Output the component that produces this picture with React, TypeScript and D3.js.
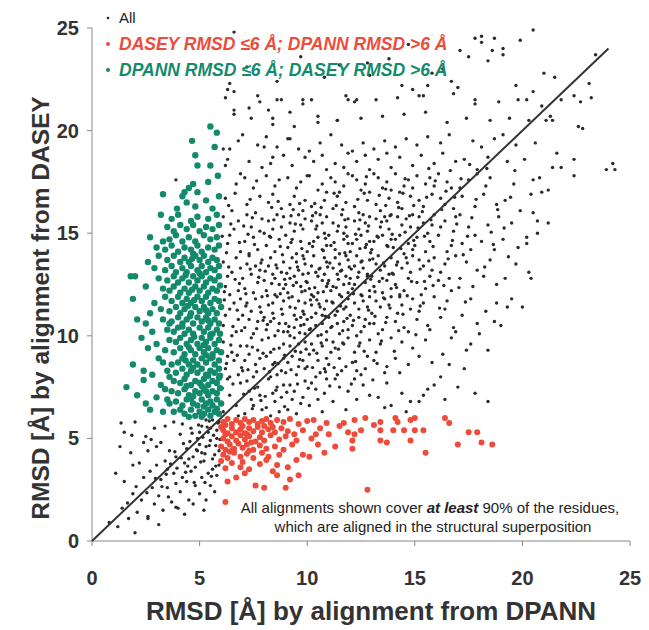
import React from "react";
import { scaleLinear, line } from "d3";

// values (RMSD in Å): [DPANN, DASEY]
const allPoints: [number, number][] = [
  // below 6/6, along the diagonal
  [0.8,0.9],[1.2,0.7],[1.4,1.6],[1.7,1.1],[1.9,2.3],[1.5,2.9],[2.1,1.4],[2.3,2.0],[2.4,3.1],[2.6,1.2],[2.8,2.6],[2.2,3.8],[2.9,1.8],[2.7,3.4],[3.1,2.2],[3.2,3.0],[3.3,1.5],[3.4,3.9],[3.5,2.6],[3.6,4.4],[3.7,1.9],[3.8,3.3],[3.9,2.8],[3.2,4.8],[3.5,3.5],[3.9,4.1],[4.0,1.6],[4.1,2.4],[4.2,3.1],[4.3,3.8],[4.4,4.5],[4.1,5.2],[4.5,2.0],[4.6,3.4],[4.7,4.1],[4.8,2.7],[4.9,5.0],[4.2,5.7],[4.6,5.5],[4.8,3.6],[4.4,2.9],[4.9,4.4],[4.3,1.3],[4.7,1.8],[5.0,2.3],[5.1,3.1],[5.2,3.9],[5.3,4.6],[5.4,5.3],[5.5,2.7],[5.6,3.5],[5.7,4.2],[5.8,5.0],[5.9,5.8],[5.1,5.6],[5.3,2.0],[5.5,4.9],[5.6,5.9],[5.8,3.2],[5.9,4.4],[5.2,1.5],[5.7,2.4],[5.4,3.3],[5.0,4.7],[5.6,4.0],[5.8,5.4],[5.3,5.9],[5.9,3.7],[5.5,5.5],[5.1,4.3],
  [1.5,5.3],[1.8,4.3],[1.9,3.7],[2.5,5.1],[2.0,5.8],[2.9,5.5],[3.0,4.6],[1.3,4.6],[2.6,4.4],[3.4,5.6],[1.1,3.3],[3.1,0.8],[2.0,0.4],[3.8,5.8],[2.4,4.8],[3.9,1.65],[2.6,1.1],[3.0,3.7],[4.5,4.0],[5.0,5.3],
  [2.55,2.35],[2.95,3.05],[3.25,2.65],[3.45,3.25],[3.65,3.75],[3.85,4.35],[3.95,3.55],[4.15,4.05],[4.25,4.75],[4.45,3.65],[4.55,4.85],[4.65,5.25],[4.85,4.45],[4.95,5.65],[5.05,3.85],[5.15,5.05],[5.25,4.25],[5.35,5.55],[5.45,4.65],[5.55,3.15],[5.65,5.15],[5.75,4.65],[5.85,5.75],[5.95,4.95],[5.45,5.85],[4.35,3.35],[4.75,2.85],[3.55,2.15],[5.25,2.85],[5.75,3.65],[1.65,1.85],[2.05,2.65],[1.35,5.75],[1.85,5.15],[2.75,4.95],
  // x 6-7
  [6.1,6.3],[6.4,7.1],[6.7,6.6],[6.9,7.7],[6.3,7.9],[6.8,6.1],[6.2,8.4],[6.5,9.2],[6.8,8.1],[6.1,9.7],[6.6,8.8],[6.9,9.5],[6.4,8.0],[6.3,9.0],[6.1,10.5],[6.4,11.3],[6.7,10.2],[6.9,11.8],[6.2,11.0],[6.6,11.6],[6.8,10.8],[6.5,10.0],[6.2,12.4],[6.5,13.1],[6.8,12.2],[6.1,13.6],[6.7,13.8],[6.3,12.9],[6.9,13.3],[6.4,12.0],[6.3,14.5],[6.6,15.2],[6.9,14.1],[6.1,15.8],[6.8,15.6],[6.4,14.9],[6.2,16.7],[6.7,17.4],[6.5,16.1],[6.9,17.9],[6.3,18.6],[6.8,19.5],[6.1,19.1],[6.6,20.8],[6.2,21.6],[6.6,24.8],[6.4,22.3],
  [6.05,7.45],[6.25,8.65],[6.45,9.55],[6.55,10.45],[6.75,11.25],[6.15,12.15],[6.35,13.35],[6.85,14.55],[6.65,12.75],[6.95,10.25],[6.25,14.05],[6.45,15.45],[6.75,9.05],[6.15,11.75],[6.55,7.65],[6.95,8.45],[6.35,16.35],[6.85,12.55],[6.05,14.85],[6.65,16.95],
  // x 7-8
  [7.1,6.2],[7.4,6.9],[7.7,7.5],[7.9,6.4],[7.2,7.8],[7.5,6.6],[7.8,7.1],[7.3,7.3],[7.0,8.3],[7.3,9.1],[7.6,8.6],[7.9,9.8],[7.2,9.5],[7.5,8.0],[7.8,8.9],[7.1,8.8],[7.4,9.9],[7.7,9.3],[7.1,10.4],[7.4,11.2],[7.7,10.7],[7.9,11.9],[7.2,11.6],[7.5,10.1],[7.8,11.4],[7.0,11.0],[7.3,10.8],[7.6,11.8],[7.1,12.3],[7.4,13.0],[7.7,12.6],[7.9,13.7],[7.2,13.5],[7.5,12.1],[7.8,13.2],[7.0,12.8],[7.3,13.9],[7.6,13.4],[7.1,14.6],[7.4,15.3],[7.7,14.2],[7.9,15.7],[7.2,15.9],[7.5,14.8],[7.8,15.1],[7.3,14.0],[7.2,16.4],[7.5,17.2],[7.8,16.8],[7.1,17.7],[7.6,16.0],[7.3,18.5],[7.7,19.3],[7.0,19.8],[7.9,18.2],[7.4,20.6],[7.8,21.4],[7.2,23.1],
  [7.05,7.15],[7.25,8.35],[7.45,9.45],[7.65,10.35],[7.85,11.15],[7.15,12.05],[7.35,13.25],[7.55,14.45],[7.75,12.85],[7.95,10.75],[7.25,14.95],[7.45,15.75],[7.65,8.25],[7.15,11.45],[7.55,7.45],[7.95,9.15],[7.35,16.65],[7.85,13.55],[7.05,15.35],[7.65,17.55],[7.45,6.45],[7.85,6.85],
  // x 8-9
  [8.1,6.5],[8.4,7.2],[8.7,6.3],[8.9,7.6],[8.2,7.9],[8.5,6.8],[8.8,7.0],[8.3,6.1],[8.6,7.5],[8.0,8.4],[8.3,9.2],[8.6,8.1],[8.9,9.6],[8.2,9.9],[8.5,8.7],[8.8,8.3],[8.1,9.0],[8.4,8.6],[8.7,9.4],[8.9,8.9],[8.3,8.0],[8.1,10.3],[8.4,11.1],[8.7,10.6],[8.9,11.7],[8.2,11.5],[8.5,10.0],[8.8,11.3],[8.0,10.9],[8.3,10.7],[8.6,11.9],[8.9,10.2],[8.4,11.6],[8.1,12.2],[8.4,13.0],[8.7,12.5],[8.9,13.6],[8.2,13.4],[8.5,12.0],[8.8,13.1],[8.0,12.7],[8.3,13.8],[8.6,13.3],[8.9,12.3],[8.5,12.8],[8.1,14.4],[8.4,15.2],[8.7,14.7],[8.9,15.8],[8.2,15.6],[8.5,14.1],[8.8,15.3],[8.0,15.0],[8.6,15.9],[8.3,14.8],[8.2,16.5],[8.5,17.3],[8.8,16.2],[8.1,17.8],[8.7,17.6],[8.4,16.9],[8.3,18.4],[8.6,19.2],[8.9,18.8],[8.1,19.7],[8.4,20.3],[8.8,21.5],[8.2,21.0],[8.6,22.4],
  [8.05,7.05],[8.25,8.25],[8.45,9.35],[8.65,10.25],[8.85,11.05],[8.15,11.95],[8.35,12.55],[8.55,13.45],[8.75,14.35],[8.95,12.75],[8.25,14.85],[8.45,15.65],[8.65,8.65],[8.15,10.55],[8.55,7.35],[8.95,9.05],[8.35,16.25],[8.85,13.95],[8.05,13.15],[8.65,16.55],[8.45,10.85],[8.75,12.05],[8.95,6.55],
  // x 9-10
  [9.1,6.4],[9.4,7.3],[9.7,6.7],[9.9,7.8],[9.2,7.6],[9.5,6.2],[9.8,7.0],[9.3,6.9],[9.0,8.2],[9.3,9.0],[9.6,8.5],[9.9,9.7],[9.2,9.5],[9.5,8.1],[9.8,8.8],[9.1,8.7],[9.4,9.9],[9.7,9.2],[9.9,8.4],[9.6,9.6],[9.1,10.2],[9.4,11.0],[9.7,10.5],[9.9,11.6],[9.2,11.4],[9.5,10.8],[9.8,11.2],[9.0,10.6],[9.3,11.9],[9.6,11.7],[9.9,10.1],[9.4,10.4],[9.7,10.9],[9.2,10.0],[9.1,12.1],[9.4,12.9],[9.7,12.4],[9.9,13.5],[9.2,13.3],[9.5,12.6],[9.8,13.0],[9.0,12.5],[9.3,13.8],[9.6,13.2],[9.9,12.2],[9.5,13.6],[9.2,12.8],[9.8,13.9],[9.1,14.3],[9.4,15.1],[9.7,14.6],[9.9,15.7],[9.2,15.5],[9.5,14.0],[9.8,15.2],[9.0,14.9],[9.6,15.9],[9.3,14.7],[9.7,15.4],[9.2,16.4],[9.5,17.2],[9.8,16.1],[9.1,17.7],[9.7,17.5],[9.4,16.8],[9.9,16.6],[9.3,18.3],[9.6,19.1],[9.9,18.7],[9.1,19.6],[9.4,20.2],[9.8,21.3],[9.2,20.9],[9.7,23.6],
  [9.05,7.25],[9.25,8.35],[9.45,9.25],[9.65,10.15],[9.85,11.05],[9.15,11.85],[9.35,12.45],[9.55,13.35],[9.75,14.25],[9.95,12.65],[9.25,14.55],[9.45,15.45],[9.65,8.85],[9.15,10.45],[9.55,7.65],[9.95,9.35],[9.35,16.15],[9.85,13.75],[9.05,13.05],[9.65,16.45],[9.45,11.35],[9.75,12.15],[9.25,15.85],[9.85,10.55],
  // x 10-11
  [10.1,6.6],[10.4,7.4],[10.7,6.3],[10.9,7.9],[10.2,7.7],[10.5,6.9],[10.8,7.2],[10.0,8.5],[10.3,9.3],[10.6,8.2],[10.9,9.8],[10.2,9.6],[10.5,8.8],[10.8,8.4],[10.1,9.1],[10.4,8.0],[10.7,9.5],[10.9,8.9],[10.1,10.3],[10.4,11.1],[10.7,10.6],[10.9,11.7],[10.2,11.5],[10.5,10.0],[10.8,11.3],[10.0,10.8],[10.3,11.9],[10.6,11.4],[10.9,10.2],[10.4,10.5],[10.7,11.0],[10.2,10.9],[10.1,12.3],[10.4,13.1],[10.7,12.7],[10.9,13.6],[10.2,13.4],[10.5,12.1],[10.8,13.0],[10.0,12.6],[10.3,13.9],[10.6,13.3],[10.9,12.4],[10.5,12.9],[10.2,12.0],[10.8,13.8],[10.1,14.5],[10.4,15.2],[10.7,14.2],[10.9,15.8],[10.2,15.6],[10.5,14.8],[10.8,15.0],[10.0,14.1],[10.6,15.9],[10.3,14.6],[10.7,15.5],[10.9,14.4],[10.2,16.3],[10.5,17.1],[10.8,16.6],[10.1,17.8],[10.7,17.4],[10.4,16.0],[10.9,17.0],[10.3,18.5],[10.6,19.4],[10.9,18.1],[10.1,19.0],[10.7,18.8],[10.5,20.7],[10.2,21.5],[10.8,22.6],
  [10.05,7.45],[10.25,8.45],[10.45,9.15],[10.65,10.05],[10.85,10.95],[10.15,11.75],[10.35,12.35],[10.55,13.25],[10.75,14.15],[10.95,12.55],[10.25,14.35],[10.45,15.35],[10.65,9.65],[10.15,10.35],[10.55,11.55],[10.95,13.35],[10.35,16.45],[10.85,14.75],[10.05,13.05],[10.65,16.25],[10.45,11.75],[10.75,12.15],[10.25,15.85],[10.85,8.25],
  // x 11-12
  [11.2,6.8],[11.5,7.5],[11.8,6.4],[11.3,7.9],[11.9,7.3],[11.0,8.6],[11.3,9.4],[11.6,8.3],[11.9,9.9],[11.2,9.7],[11.5,8.9],[11.8,8.5],[11.1,9.2],[11.4,8.1],[11.7,9.6],[11.1,10.4],[11.4,11.2],[11.7,10.7],[11.9,11.8],[11.2,11.6],[11.5,10.1],[11.8,11.4],[11.0,10.9],[11.3,11.0],[11.6,11.9],[11.9,10.3],[11.4,10.6],[11.7,11.3],[11.1,12.2],[11.4,13.0],[11.7,12.5],[11.9,13.7],[11.2,13.3],[11.5,12.0],[11.8,12.9],[11.0,12.7],[11.3,13.8],[11.6,13.2],[11.9,12.1],[11.5,13.5],[11.2,12.4],[11.8,13.9],[11.1,14.4],[11.4,15.1],[11.7,14.7],[11.9,15.7],[11.2,15.5],[11.5,14.0],[11.8,15.3],[11.0,14.9],[11.6,15.9],[11.3,14.2],[11.7,15.0],[11.9,14.5],[11.2,16.2],[11.5,17.0],[11.8,16.5],[11.1,17.7],[11.7,17.3],[11.4,16.8],[11.9,17.9],[11.3,17.5],[11.3,18.4],[11.6,19.3],[11.9,18.9],[11.1,19.8],[11.7,18.2],[11.4,20.5],[11.8,21.7],[11.5,23.2],
  [11.05,7.55],[11.25,8.45],[11.45,9.35],[11.65,10.25],[11.85,10.85],[11.15,11.65],[11.35,12.35],[11.55,13.15],[11.75,14.05],[11.95,12.55],[11.25,14.55],[11.45,15.35],[11.65,9.65],[11.15,10.45],[11.55,11.45],[11.95,13.35],[11.35,16.35],[11.85,14.85],[11.05,13.55],[11.65,16.15],[11.45,12.75],[11.75,15.65],[11.25,16.95],
  // x 12-13
  [12.3,6.9],[12.6,7.6],[12.9,7.1],[12.2,7.9],[12.1,8.7],[12.4,9.5],[12.7,8.4],[12.9,9.8],[12.2,9.2],[12.5,8.1],[12.8,9.0],[12.3,8.3],[12.1,10.5],[12.4,11.3],[12.7,10.8],[12.9,11.9],[12.2,11.6],[12.5,10.2],[12.8,11.4],[12.0,11.0],[12.3,10.0],[12.6,11.7],[12.9,10.6],[12.4,10.9],[12.1,12.3],[12.4,13.1],[12.7,12.6],[12.9,13.7],[12.2,13.4],[12.5,12.0],[12.8,13.0],[12.0,12.8],[12.3,13.9],[12.6,13.3],[12.9,12.2],[12.5,13.6],[12.2,12.5],[12.8,12.9],[12.1,14.5],[12.4,15.2],[12.7,14.3],[12.9,15.8],[12.2,15.6],[12.5,14.9],[12.8,15.1],[12.0,14.1],[12.6,15.9],[12.3,14.7],[12.7,15.5],[12.9,14.6],[12.2,16.3],[12.5,17.1],[12.8,16.6],[12.1,17.8],[12.7,17.4],[12.4,16.0],[12.9,17.0],[12.3,17.6],[12.3,18.5],[12.6,19.4],[12.9,18.1],[12.1,19.0],[12.7,18.8],[12.5,20.6],[12.2,21.4],[12.8,23.3],
  [12.05,7.65],[12.25,8.75],[12.45,9.65],[12.65,10.45],[12.85,11.25],[12.15,12.05],[12.35,12.85],[12.55,13.65],[12.75,14.45],[12.95,12.75],[12.25,14.95],[12.45,15.65],[12.65,9.25],[12.15,10.75],[12.55,11.95],[12.95,14.05],[12.35,16.65],[12.85,15.35],[12.05,13.25],[12.65,16.95],[12.45,14.25],[12.75,17.75],
  // x 13-14
  [13.3,7.0],[13.7,7.7],[13.9,6.6],[13.1,8.8],[13.4,9.6],[13.7,8.5],[13.9,9.9],[13.2,9.2],[13.6,8.2],[13.1,10.6],[13.4,11.4],[13.7,10.9],[13.9,11.9],[13.2,11.7],[13.5,10.3],[13.8,11.5],[13.0,11.1],[13.3,10.1],[13.6,11.8],[13.1,12.4],[13.4,13.2],[13.7,12.7],[13.9,13.8],[13.2,13.5],[13.5,12.1],[13.8,13.0],[13.0,12.9],[13.3,13.9],[13.6,13.4],[13.9,12.3],[13.5,12.8],[13.1,14.6],[13.4,15.3],[13.7,14.4],[13.9,15.9],[13.2,15.7],[13.5,14.9],[13.8,15.2],[13.0,14.2],[13.6,15.8],[13.3,14.8],[13.7,15.6],[13.9,14.7],[13.2,16.4],[13.5,17.2],[13.8,16.7],[13.1,17.9],[13.7,17.5],[13.4,16.1],[13.9,17.1],[13.3,17.7],[13.3,18.6],[13.6,19.5],[13.9,18.2],[13.1,19.1],[13.7,18.9],[13.5,20.7],[13.2,21.5],[13.8,23.5],
  [13.05,7.85],[13.25,8.65],[13.45,9.75],[13.65,10.65],[13.85,11.35],[13.15,12.15],[13.35,12.65],[13.55,13.55],[13.75,14.35],[13.95,13.05],[13.25,14.85],[13.45,15.55],[13.65,16.35],[13.15,10.95],[13.55,11.85],[13.95,14.95],[13.35,16.85],[13.85,15.85],[13.05,13.75],[13.65,17.15],
  // x 14-15
  [14.4,7.2],[14.8,6.8],[14.1,8.9],[14.4,9.7],[14.7,8.6],[14.9,9.4],[14.3,8.2],[14.1,10.7],[14.4,11.5],[14.7,10.2],[14.9,11.8],[14.2,11.1],[14.5,10.4],[14.8,11.3],[14.3,11.9],[14.1,12.5],[14.4,13.3],[14.7,12.8],[14.9,13.9],[14.2,13.6],[14.5,12.2],[14.8,13.1],[14.0,13.0],[14.6,13.8],[14.3,12.0],[14.1,14.7],[14.4,15.4],[14.7,14.5],[14.9,15.9],[14.2,15.8],[14.5,14.0],[14.8,15.3],[14.0,14.3],[14.6,15.7],[14.3,14.9],[14.9,14.2],[14.2,16.5],[14.5,17.3],[14.8,16.8],[14.1,17.9],[14.7,17.6],[14.4,16.2],[14.9,17.2],[14.3,17.0],[14.3,18.7],[14.6,19.6],[14.9,18.3],[14.1,19.2],[14.5,20.8],[14.2,21.6],[14.7,24.2],
  [14.05,9.25],[14.25,10.25],[14.45,11.05],[14.65,11.95],[14.85,12.65],[14.15,13.45],[14.35,14.25],[14.55,15.05],[14.75,15.85],[14.95,14.65],[14.25,16.25],[14.45,16.95],[14.65,13.55],[14.15,12.35],[14.55,17.65],[14.95,16.35],
  // x 15-16
  [15.6,7.4],[15.2,9.0],[15.5,9.8],[15.8,8.7],[15.1,10.8],[15.4,11.6],[15.7,10.3],[15.9,11.9],[15.2,11.2],[15.6,10.5],[15.1,12.6],[15.4,13.4],[15.7,12.9],[15.9,13.8],[15.2,13.7],[15.5,12.3],[15.8,13.2],[15.3,12.0],[15.1,14.8],[15.4,15.5],[15.7,14.6],[15.9,15.9],[15.2,15.8],[15.5,14.1],[15.8,15.4],[15.0,14.4],[15.6,15.0],[15.2,16.6],[15.5,17.4],[15.8,16.9],[15.1,17.8],[15.7,17.7],[15.4,16.3],[15.9,17.3],[15.3,18.8],[15.6,19.7],[15.9,18.4],[15.1,19.3],[15.5,20.9],[15.2,21.7],[15.8,22.8],
  [15.05,10.05],[15.25,11.45],[15.45,12.65],[15.65,13.65],[15.85,14.35],[15.15,15.25],[15.35,16.05],[15.55,16.75],[15.75,15.65],[15.95,17.55],[15.25,13.25],[15.45,14.85],[15.65,18.15],[15.85,12.45],
  // x 16-17
  [16.3,9.1],[16.7,9.9],[16.2,10.9],[16.5,11.7],[16.8,10.4],[16.4,11.3],[16.1,12.7],[16.4,13.5],[16.7,12.2],[16.9,13.9],[16.2,13.1],[16.6,12.8],[16.1,14.9],[16.4,15.6],[16.7,14.4],[16.9,15.8],[16.2,15.3],[16.5,14.1],[16.8,15.1],[16.2,16.7],[16.5,17.5],[16.8,16.2],[16.1,17.9],[16.7,17.2],[16.4,16.4],[16.3,18.9],[16.6,19.8],[16.9,18.5],[16.2,19.4],[16.5,20.4],[16.8,21.8],[16.3,23.0],
  // x 17-18
  [17.4,9.3],[17.2,11.0],[17.6,11.8],[17.9,10.6],[17.1,12.8],[17.4,13.6],[17.7,12.4],[17.9,13.2],[17.2,14.5],[17.5,15.3],[17.8,14.9],[17.1,15.9],[17.6,14.2],[17.2,16.8],[17.5,17.6],[17.8,16.3],[17.1,17.2],[17.9,17.9],[17.3,18.6],[17.7,19.5],[17.9,18.1],[17.4,20.6],[17.8,21.3],[17.5,23.6],
  [16.15,11.35],[16.35,12.45],[16.55,13.75],[16.75,14.65],[16.95,15.45],[16.25,16.15],[16.45,17.05],[16.65,18.05],[16.85,16.75],[17.05,12.35],[17.25,13.95],[17.45,14.85],[17.65,15.75],[17.85,16.65],[17.15,17.65],[17.55,18.35],[17.35,11.65],
  // x 18-20
  [18.3,11.2],[18.7,10.7],[18.2,12.9],[18.5,13.7],[18.8,12.5],[18.1,14.6],[18.4,15.4],[18.7,14.2],[18.9,15.8],[18.2,16.9],[18.5,17.7],[18.8,16.4],[18.3,17.3],[18.4,18.7],[18.7,19.6],[18.1,19.2],[18.5,20.5],[18.9,21.4],[18.6,23.9],
  [19.3,11.4],[19.2,12.8],[19.7,13.5],[19.1,14.7],[19.5,15.5],[19.8,14.3],[19.2,16.6],[19.6,17.4],[19.9,16.1],[19.3,18.5],[19.7,19.3],[19.1,19.8],[19.4,20.6],[19.8,21.5],
  [18.25,13.35],[18.55,15.05],[18.85,16.15],[18.35,18.15],[18.65,14.45],[19.15,15.25],[19.45,16.75],[19.65,18.05],[19.35,13.85],
  // x 20-24
  [20.3,13.1],[20.2,14.8],[20.7,15.6],[20.4,16.9],[20.8,17.7],[20.1,18.6],[20.6,19.4],[20.3,20.5],[20.9,21.2],[21.2,17.1],[21.6,18.9],[21.3,20.7],[21.8,21.5],[21.5,22.6],[22.4,17.8],[23.9,18.1],[22.7,21.4],[23.1,22.3],
  // under the diagonal, right side
  [15.2,6.8],[13.6,6.5],[17.0,7.5],[16.6,8.6],[16.2,8.0],[15.9,7.6],[17.8,7.2],[18.4,6.8],[18.4,9.3],[18.8,11.6],[19.5,11.8],[20.4,12.8],[17.3,8.4],[16.9,10.2],[18.0,10.1],[19.0,10.5],[15.4,7.1],[14.6,6.3],[16.4,6.9],[17.6,9.6],[20.0,11.4],
  // upper region
  [6.3,22.0],[6.6,21.9],[7.7,21.7],[8.6,21.5],[9.8,21.5],[6.6,21.0],[7.3,21.1],[8.4,20.6],[10.5,20.4],[11.4,20.5],[11.9,21.5],[12.3,21.5],[6.4,19.1],[3.9,17.6],[6.2,18.3],[8.0,19.2],[8.4,18.7],[9.2,19.6],[10.0,17.8],[17.1,23.9],[16.7,22.4],[15.6,22.2],[14.4,22.2],[12.9,22.7],[20.5,24.9],[17.8,24.5],[18.1,24.3],[18.7,24.5],[19.9,24.4],[19.1,24.0],[19.1,23.7],[18.4,23.4],[23.4,23.7],[21.0,22.8],[19.7,22.2],[20.5,21.9],[20.2,21.5],[23.2,21.6],[22.4,21.7],[21.4,20.5],[21.1,20.5],[22.6,20.2],[22.8,20.1],[24.2,18.4],[24.3,18.1],[21.4,18.2],[21.8,18.2],[22.4,18.6],[20.5,17.6],[20.9,17.0],[21.2,15.5],[20.5,16.0],[20.7,15.0],[20.2,14.5],[14.9,22.0],[15.4,21.7],[17.0,22.1],[17.8,21.5],[18.1,24.6],
];

// DASEY RMSD <= 6 Å; DPANN RMSD > 6 Å
const daseyPoints: [number, number][] = [
  [6.1,5.8],[6.3,5.95],[6.5,5.7],[6.7,5.9],[6.9,5.75],[7.1,5.95],[7.3,5.8],[7.5,5.9],[7.7,5.7],[7.9,5.85],[8.1,5.95],[8.3,5.75],[8.6,5.9],[8.9,5.8],[9.2,5.95],[9.6,5.7],[10.0,5.85],[6.2,5.65],[7.0,5.6],[8.0,5.6],
  [6.1,5.4],[6.3,5.25],[6.5,5.5],[6.7,5.3],[6.9,5.45],[7.1,5.25],[7.3,5.5],[7.5,5.35],[7.7,5.55],[7.9,5.3],[8.2,5.45],[8.5,5.3],[8.8,5.5],[9.1,5.35],[9.4,5.2],[6.0,5.55],[7.2,5.2],[8.4,5.55],
  [6.1,5.0],[6.3,4.85],[6.5,5.1],[6.7,4.9],[6.9,5.15],[7.1,4.95],[7.3,5.1],[7.6,4.85],[7.8,5.05],[8.0,4.9],[8.3,5.15],[8.7,4.95],[9.0,5.1],[9.5,4.9],[6.2,5.2],[7.4,4.8],[10.2,5.0],
  [6.0,4.6],[6.2,4.45],[6.4,4.7],[6.6,4.5],[6.8,4.75],[7.0,4.55],[7.2,4.7],[7.5,4.45],[7.8,4.65],[8.1,4.5],[8.5,4.6],[8.9,4.45],[9.3,4.7],[6.5,4.4],[7.3,4.4],
  [6.1,4.2],[6.3,4.05],[6.6,4.3],[6.9,4.1],[7.2,4.25],[7.5,4.05],[7.9,4.3],[8.2,4.1],[8.7,4.2],[9.5,3.95],[10.1,4.1],[9.8,4.2],[6.4,4.35],
  [6.2,3.55],[6.5,3.8],[6.9,3.6],[7.3,3.5],[7.8,3.75],[8.1,3.95],[8.6,3.7],[9.1,3.6],[6.0,3.9],[7.0,3.85],
  [6.7,3.1],[7.6,2.7],[8.6,3.2],[9.2,3.0],[9.6,3.2],[7.1,3.3],[6.3,2.9],[8.0,2.6],[9.0,2.6],[8.4,3.4],[6.2,1.9],[12.8,2.5],
  [10.3,5.9],[10.9,5.75],[11.7,5.75],[12.2,5.9],[12.7,6.0],[13.1,5.65],[13.4,5.8],[13.4,5.4],[13.4,4.9],[13.7,4.8],[14.0,5.4],[14.1,6.0],[14.2,5.8],[14.5,5.4],[14.8,5.9],[14.8,4.9],[15.0,6.0],[15.0,5.4],[15.4,5.4],[15.5,4.3],[16.4,6.0],[16.6,5.75],[17.0,4.7],[17.5,5.3],[17.9,5.3],[18.1,4.8],[18.6,4.7],[12.1,4.9],[12.1,4.5],[11.9,5.3],[12.2,5.2],[11.0,5.2],[10.6,5.5],[11.3,4.6],[10.5,4.7],[10.8,4.3],[11.5,5.6],[12.5,5.4],[9.8,5.4],[10.4,5.2],
];

// DPANN RMSD <= 6 Å; DASEY RMSD > 6 Å
const dpannPoints: [number, number][] = [
  [4.3,6.2],[4.6,6.4],[4.8,6.1],[5.0,6.3],[5.2,6.2],[5.4,6.4],[5.5,6.1],[5.7,6.3],[5.9,6.2],[4.1,6.4],[5.1,6.05],[5.8,6.45],[4.5,6.05],
  [3.9,6.8],[4.2,6.6],[4.4,6.9],[4.7,6.7],[4.9,6.6],[5.1,6.9],[5.3,6.7],[5.5,6.8],[5.6,6.6],[5.8,6.9],[6.0,6.7],[4.6,6.95],[5.2,6.55],[3.6,6.7],
  [4.0,7.2],[4.3,7.4],[4.5,7.1],[4.8,7.3],[5.0,7.2],[5.2,7.4],[5.4,7.1],[5.6,7.3],[5.8,7.2],[5.95,7.45],[4.7,7.05],[5.3,7.3],[3.7,7.3],[2.1,7.1],[3.4,7.4],
  [4.1,7.7],[4.3,7.9],[4.6,7.6],[4.8,7.8],[5.0,7.7],[5.2,7.9],[5.4,7.6],[5.6,7.8],[5.8,7.7],[5.9,7.95],[4.4,7.55],[5.1,7.55],[3.8,7.8],[2.4,7.85],[3.2,7.6],[1.6,7.5],
  [3.9,8.2],[4.2,8.4],[4.4,8.1],[4.6,8.3],[4.9,8.2],[5.1,8.4],[5.3,8.1],[5.5,8.3],[5.7,8.2],[5.9,8.4],[4.7,8.45],[5.4,8.05],[3.5,8.3],[2.8,8.1],[5.95,8.05],
  [4.0,8.7],[4.2,8.9],[4.5,8.6],[4.7,8.8],[4.9,8.6],[5.1,8.9],[5.3,8.7],[5.5,8.9],[5.7,8.6],[5.9,8.8],[4.35,8.8],[5.6,8.95],[3.7,8.6],[1.9,8.6],[3.1,8.9],
  [3.8,9.2],[4.1,9.4],[4.3,9.1],[4.6,9.3],[4.8,9.1],[5.0,9.4],[5.2,9.2],[5.4,9.4],[5.6,9.1],[5.8,9.3],[6.0,9.2],[4.5,9.45],[5.3,9.05],[3.4,9.3],[2.6,9.4],
  [3.9,9.7],[4.1,9.9],[4.4,9.6],[4.6,9.8],[4.9,9.6],[5.1,9.9],[5.3,9.7],[5.5,9.9],[5.7,9.6],[5.9,9.8],[4.75,9.95],[5.2,9.55],[3.6,9.8],[3.0,9.6],[2.3,9.9],
  [3.8,10.2],[4.0,10.4],[4.3,10.1],[4.5,10.3],[4.7,10.1],[5.0,10.4],[5.2,10.2],[5.4,10.4],[5.6,10.1],[5.8,10.3],[5.95,10.1],[4.2,10.45],[5.5,10.05],[3.5,10.3],[2.8,10.2],
  [3.7,10.7],[4.0,10.9],[4.2,10.6],[4.4,10.8],[4.7,10.6],[4.9,10.9],[5.1,10.7],[5.3,10.9],[5.5,10.6],[5.7,10.8],[5.9,10.6],[4.55,10.95],[5.4,10.75],[3.3,10.8],[2.1,10.8],[2.5,10.6],
  [3.6,11.2],[3.9,11.4],[4.1,11.1],[4.3,11.3],[4.6,11.1],[4.8,11.4],[5.0,11.2],[5.2,11.4],[5.4,11.1],[5.6,11.3],[5.8,11.1],[6.0,11.4],[4.45,11.45],[5.3,11.25],[3.2,11.3],[2.7,11.1],
  [3.7,11.7],[4.0,11.9],[4.2,11.6],[4.4,11.8],[4.6,11.6],[4.9,11.9],[5.1,11.7],[5.3,11.9],[5.5,11.6],[5.7,11.8],[5.9,11.7],[4.75,11.75],[3.4,11.9],[1.9,11.8],[2.9,11.6],
  [3.6,12.2],[3.8,12.4],[4.1,12.1],[4.3,12.3],[4.5,12.1],[4.8,12.4],[5.0,12.2],[5.2,12.4],[5.4,12.1],[5.6,12.3],[5.8,12.2],[5.95,12.45],[4.65,12.25],[3.3,12.3],[2.5,12.4],
  [3.5,12.7],[3.8,12.9],[4.0,12.6],[4.2,12.8],[4.5,12.6],[4.7,12.9],[4.9,12.7],[5.1,12.9],[5.3,12.6],[5.5,12.8],[5.7,12.7],[5.9,12.9],[4.35,12.95],[1.8,12.9],[2.0,12.9],[3.1,12.8],
  [3.4,13.2],[3.7,13.4],[3.9,13.1],[4.2,13.3],[4.4,13.1],[4.6,13.4],[4.9,13.2],[5.1,13.4],[5.3,13.1],[5.5,13.3],[5.7,13.2],[5.9,13.4],[5.0,13.05],[2.9,13.3],
  [3.5,13.7],[3.8,13.9],[4.1,13.6],[4.3,13.8],[4.5,13.6],[4.8,13.9],[5.0,13.7],[5.2,13.9],[5.4,13.6],[5.6,13.8],[5.8,13.7],[4.65,13.75],[3.1,13.9],[2.6,13.6],
  [3.4,14.2],[3.7,14.4],[4.0,14.1],[4.3,14.3],[4.6,14.2],[4.9,14.4],[5.1,14.1],[5.4,14.3],[5.7,14.2],[5.9,14.4],[3.0,14.3],[4.7,14.0],
  [3.6,14.7],[3.9,14.9],[4.2,14.6],[4.5,14.8],[4.8,14.6],[5.2,14.9],[5.5,14.7],[5.8,14.8],[2.7,14.8],[3.3,14.6],
  [3.5,15.3],[3.8,15.1],[4.1,15.4],[4.4,15.2],[4.7,15.4],[5.0,15.1],[5.3,15.3],[5.6,15.2],[5.9,15.4],
  [3.2,15.9],[3.7,15.7],[4.0,15.9],[4.6,15.6],[4.9,15.8],[5.4,15.7],[5.8,15.9],
  [3.95,16.2],[4.4,16.5],[4.8,16.3],[5.3,16.6],[5.6,16.2],[5.9,16.8],[4.2,16.8],
  [3.3,16.9],[4.3,17.0],[4.5,17.2],[4.9,17.0],[5.4,17.5],[5.85,17.8],[4.7,17.4],
  [4.9,18.3],[5.5,18.3],[4.8,18.8],[5.7,19.2],[4.65,19.5],[5.8,19.9],[5.5,20.2],
  [2.5,6.7],[3.0,7.0],[2.7,6.4],[3.3,6.3],[3.5,6.9],[3.8,6.3],[3.6,8.0],[3.3,8.7],[2.4,8.3],[3.6,10.6],
];

const xTicks = [0, 5, 10, 15, 20, 25];
const yTicks = [0, 5, 10, 15, 20, 25];
const diagonal: [number, number][] = [[0, 0], [24, 24]];

const legendItems = [
  { label: "All", color: "#222", bold: false },
  { label: "DASEY RMSD \u22646 \u00c5; DPANN RMSD >6 \u00c5", color: "#ee4b3b", bold: true },
  { label: "DPANN RMSD \u22646 \u00c5; DASEY RMSD >6 \u00c5", color: "#148a6c", bold: true },
];

const width = 649;
const height = 630;
const margin = { top: 28, right: 19, bottom: 89, left: 92 };
const innerWidth = width - margin.left - margin.right;
const innerHeight = height - margin.top - margin.bottom;
const font = "'Liberation Sans', Arial, sans-serif";

const App = () => {
  const xScale = scaleLinear().domain([0, 25]).range([0, innerWidth]);
  const yScale = scaleLinear().domain([0, 25]).range([innerHeight, 0]);
  const diagLine = line<[number, number]>()
    .x((d) => xScale(d[0]))
    .y((d) => yScale(d[1]));

  return (
    <svg
      width={width}
      height={height}
      style={{ position: "absolute", left: 0, top: 0, background: "#fff" }}
      fontFamily={font}
    >
      <g transform={`translate(${margin.left},${margin.top})`}>
        {/* axes */}
        <line x1={0} x2={0} y1={0} y2={innerHeight} stroke="#888" />
        <line x1={0} x2={innerWidth} y1={innerHeight} y2={innerHeight} stroke="#888" />
        {yTicks.map((t) => (
          <g key={"y" + t} transform={`translate(0,${yScale(t)})`}>
            <line x1={-5} x2={0} stroke="#888" />
            <text x={-13} dy="0.35em" textAnchor="end" fontSize={20} fontWeight="bold" fill="#333">
              {t}
            </text>
          </g>
        ))}
        {xTicks.map((t) => (
          <g key={"x" + t} transform={`translate(${xScale(t)},${innerHeight})`}>
            <line y1={0} y2={5} stroke="#888" />
            <text y={44} textAnchor="middle" fontSize={20} fontWeight="bold" fill="#333">
              {t}
            </text>
          </g>
        ))}

        {/* all alignments */}
        {allPoints.map((d, i) => (
          <circle key={"a" + i} cx={xScale(d[0])} cy={yScale(d[1])} r={1.7} fill="#2a2a2a" />
        ))}
        {dpannPoints.map((d, i) => (
          <circle key={"g" + i} cx={xScale(d[0])} cy={yScale(d[1])} r={3.2} fill="#148a6c" />
        ))}
        {daseyPoints.map((d, i) => (
          <circle key={"r" + i} cx={xScale(d[0])} cy={yScale(d[1])} r={3} fill="#ee4b3b" />
        ))}

        <path d={diagLine(diagonal) || ""} stroke="#333" strokeWidth={2} fill="none" />

        {/* legend */}
        {legendItems.map((item, i) => (
          <g key={item.label} transform={`translate(16,${-10 + i * 26})`}>
            <circle cx={0} cy={0} r={item.bold ? 2 : 1.3} fill={item.color} />
            <text
              x={11}
              dy="0.35em"
              fontSize={item.bold ? 17.5 : 15}
              fontWeight={item.bold ? "bold" : "normal"}
              fontStyle={item.bold ? "italic" : "normal"}
              fill={item.color}
            >
              {item.label}
            </text>
          </g>
        ))}

        {/* note */}
        <text x={338} y={485} textAnchor="middle" fontSize={15} fill="#222">
          All alignments shown cover <tspan fontWeight="bold" fontStyle="italic">at least</tspan> 90% of the residues,
        </text>
        <text x={341} y={504} textAnchor="middle" fontSize={15} fill="#222">
          which are aligned in the structural superposition
        </text>
      </g>

      {/* axis titles */}
      <text x={371} y={620} textAnchor="middle" fontSize={26} fontWeight="bold" fill="#333">
        RMSD [Å] by alignment from DPANN
      </text>
      <text
        transform="translate(49,308) rotate(-90)"
        textAnchor="middle"
        fontSize={24.5}
        fontWeight="bold"
        fill="#333"
      >
        RMSD [Å] by alignment from DASEY
      </text>
    </svg>
  );
};

export default App;
